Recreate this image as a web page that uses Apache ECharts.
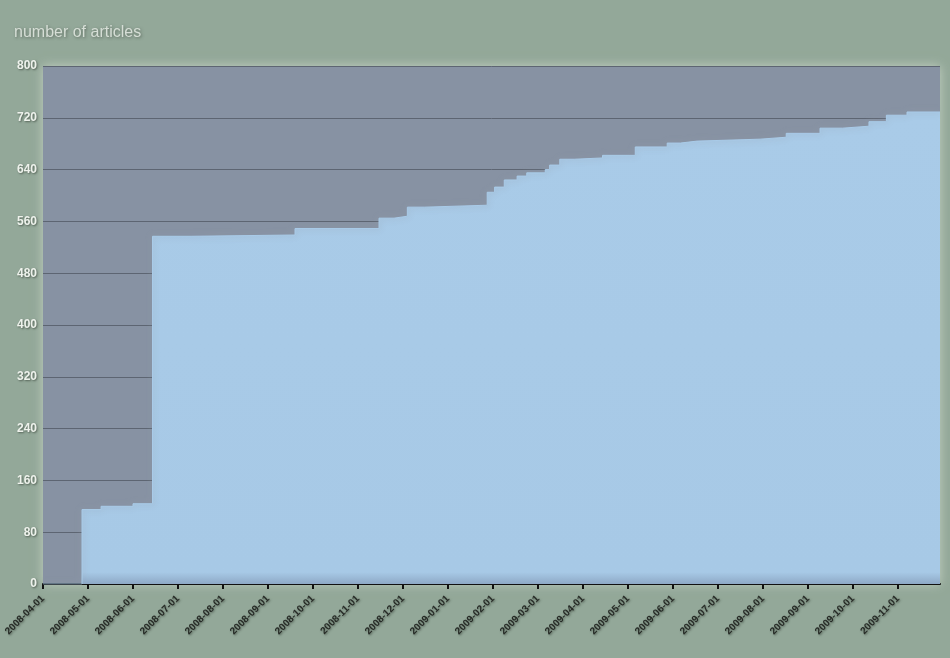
<!DOCTYPE html>
<html>
<head>
<meta charset="utf-8">
<script src="https://cdn.jsdelivr.net/npm/echarts@6/dist/echarts.min.js"></script>
<style>
html,body{margin:0;padding:0;background:#93a899;}
#chart{width:950px;height:658px;}
</style>
</head>
<body>
<div id="chart"></div>
<script>
// Dates where the count changes, and the count from that date on
const stepDates = ['2008-04-01','2008-04-27','2008-05-10','2008-06-01','2008-06-14','2008-07-10','2008-09-19',
  '2008-11-15','2008-11-25','2008-12-04','2008-12-16','2009-01-28','2009-02-02','2009-02-08','2009-02-16',
  '2009-02-22','2009-03-06','2009-03-09','2009-03-16','2009-03-26','2009-04-14','2009-05-06','2009-05-28',
  '2009-06-06','2009-06-17','2009-07-30','2009-08-17','2009-09-09','2009-09-24','2009-10-12','2009-10-24',
  '2009-11-07','2009-11-29'];
const articleCounts = [0,115,120,124,537,539,549,
  565,568,582,585,605,613,624,630,
  635,640,647,656,658,662,675,681,
  684,687,690,696,704,707,714,724,
  729,730];
const tickLabels = ['2008-04-01','2008-05-01','2008-06-01','2008-07-01','2008-08-01','2008-09-01','2008-10-01',
  '2008-11-01','2008-12-01','2009-01-01','2009-02-01','2009-03-01','2009-04-01','2009-05-01','2009-06-01',
  '2009-07-01','2009-08-01','2009-09-01','2009-10-01','2009-11-01'];
const yTicks = [0,80,160,240,320,400,480,560,640,720,800];
const titleText = 'number of articles';

// month-based position (each month is one unit on the axis)
function monthPos(s){
  const p = s.split('-').map(Number);
  const idx = (p[0]-2008)*12 + (p[1]-4);
  const dim = new Date(p[0], p[1], 0).getDate();
  return idx + (p[2]-1)/dim;
}
const seriesData = stepDates.map((d,i)=>[monthPos(d), articleCounts[i]]);
const xMax = monthPos(stepDates[stepDates.length-1]);

const chart = echarts.init(document.getElementById('chart'), null, {renderer:'canvas'});
chart.setOption({
  backgroundColor:'#93a899',
  animation:false,
  title:{
    text:titleText, left:9, top:20,
    textStyle:{color:'#d6ded6', fontFamily:'Liberation Sans, Arial, sans-serif', fontSize:16, fontWeight:'normal',
      textShadowColor:'rgba(60,70,60,0.6)', textShadowBlur:3, textShadowOffsetX:1, textShadowOffsetY:1}
  },
  grid:{
    left:43, right:10, top:66, bottom:74,
    show:true, backgroundColor:'#8792a3', borderWidth:0,
    shadowColor:'rgba(235,240,225,0.55)', shadowBlur:10
  },
  xAxis:{
    type:'value', min:0, max:xMax,
    splitLine:{show:false},
    axisLine:{show:true, onZero:false, lineStyle:{color:'#111', width:2}},
    axisTick:{show:true, length:5, lineStyle:{color:'#111', width:2}, customValues: tickLabels.map((_,i)=>i)},
    axisLabel:{
      customValues: tickLabels.map((_,i)=>i),
      formatter: v => tickLabels[Math.round(v)] || '',
      rotate:45, margin:13, color:'#262a26',
      fontFamily:'Liberation Sans, Arial, sans-serif', fontSize:10, fontWeight:'bold',
      textShadowColor:'rgba(40,50,40,0.5)', textShadowBlur:2, textShadowOffsetX:1, textShadowOffsetY:1
    }
  },
  yAxis:{
    type:'value', min:yTicks[0], max:yTicks[yTicks.length-1], interval:80,
    axisLine:{show:false}, axisTick:{show:false},
    splitLine:{show:true, lineStyle:{color:'#5d6572', width:1}},
    axisLabel:{
      color:'#eef2ec', margin:6,
      fontFamily:'Liberation Sans, Arial, sans-serif', fontSize:12, fontWeight:'bold',
      textShadowColor:'rgba(40,50,40,0.6)', textShadowBlur:2, textShadowOffsetX:1, textShadowOffsetY:1
    }
  },
  series:[{
    type:'line', step:'end', data:seriesData, symbol:'none',
    lineStyle:{color:'#a9cbe8', width:1, shadowColor:'rgba(150,160,175,0.9)', shadowBlur:6},
    areaStyle:{opacity:1, color:new echarts.graphic.LinearGradient(0,0,0,1,[
      {offset:0,color:'#a9cbe8'},{offset:0.975,color:'#a7c9e6'},{offset:1,color:'#8ea9c6'}])},
    z:1
  }]
});
</script>
</body>
</html>
